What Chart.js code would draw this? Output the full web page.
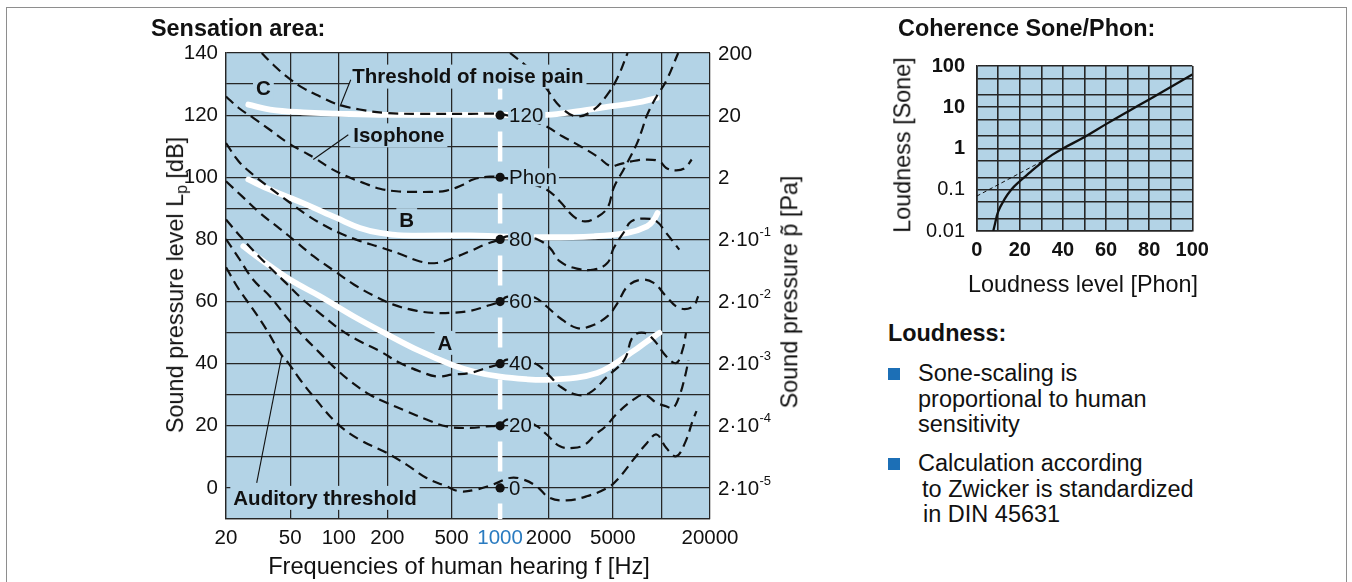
<!DOCTYPE html>
<html>
<head>
<meta charset="utf-8">
<script src="https://cdn.jsdelivr.net/npm/chart.js@4.4.1/dist/chart.umd.min.js"></script>
<style>
html,body{margin:0;padding:0;background:#fff;width:1352px;height:582px;overflow:hidden;
  font-family:"Liberation Sans",Arial,Helvetica,sans-serif;color:#111;}
#frame{position:absolute;left:6px;top:7px;width:1339px;height:640px;border:1px solid #8e8e8e;z-index:0;}
canvas{position:absolute;z-index:1;}
.t{position:absolute;white-space:nowrap;line-height:1;z-index:2;}
.b{font-weight:bold;}
.rot{transform:translate(-50%,-50%) rotate(-90deg);}
.ctr{transform:translateX(-50%);}
.sq{position:absolute;width:12px;height:12px;background:#1c6fb6;z-index:2;}
sub{font-size:0.68em;vertical-align:-0.25em;}
</style>
</head>
<body>
<div id="frame"></div>
<canvas id="main" width="860" height="582" style="left:0;top:0;"></canvas>
<canvas id="sone" width="380" height="260" style="left:860px;top:40px;"></canvas>

<div class="t b" style="left:151px;top:17px;font-size:23.4px;">Sensation area:</div>
<div class="t rot" style="left:177px;top:285px;font-size:23.4px;">Sound pressure level L<sub>p</sub> [dB]</div>
<div class="t rot" style="left:790px;top:292px;font-size:23.4px;">Sound pressure p&#771; [Pa]</div>
<div class="t ctr" style="left:459px;top:555px;font-size:23.6px;">Frequencies of human hearing f [Hz]</div>

<div class="t b" style="left:898px;top:17px;font-size:23.4px;">Coherence Sone/Phon:</div>
<div class="t rot" style="left:903px;top:145px;font-size:23.4px;">Loudness [Sone]</div>
<div class="t ctr" style="left:1083px;top:273px;font-size:23.4px;">Loudness level [Phon]</div>

<div class="t b" style="left:888px;top:322px;font-size:23.4px;">Loudness:</div>
<div class="sq" style="left:888px;top:368px;"></div>
<div class="t" style="left:918px;top:362px;font-size:23.5px;">Sone-scaling is</div>
<div class="t" style="left:918px;top:388px;font-size:23.5px;">proportional to human</div>
<div class="t" style="left:918px;top:413px;font-size:23.5px;">sensitivity</div>
<div class="sq" style="left:888px;top:458px;"></div>
<div class="t" style="left:918px;top:452px;font-size:23.5px;">Calculation according</div>
<div class="t" style="left:922px;top:478px;font-size:23.5px;">to Zwicker is standardized</div>
<div class="t" style="left:923px;top:503px;font-size:23.5px;">in DIN 45631</div>

<script>
const FONT = '"Liberation Sans", Arial, Helvetica, sans-serif';
const PLOT_BG = '#b3d3e6';
const GRID = '#262626';
const INK = '#111111';
const BLUE_TICK = '#2a7bc0';

/* ---------- Sensation area: axis ticks ---------- */
const freqTicks = [20, 50, 100, 200, 500, 1000, 2000, 5000, 10000, 20000];
const freqTickLabels = ['20', '50', '100', '200', '500', '1000', '2000', '5000', '', '20000'];
const levelTickLabels = {0:'0', 20:'20', 40:'40', 60:'60', 80:'80', 100:'100', 120:'120', 140:'140'};
/* right axis: sound pressure in Pa */
const paLevels = [140, 120, 100, 80, 60, 40, 20, 0];
const paBase = ['200', '20', '2', '2·10', '2·10', '2·10', '2·10', '2·10'];
const paExp = ['', '', '', '-1', '-2', '-3', '-4', '-5'];

/* ---------- isophones [Hz, dB] ---------- */
const phon0 = [[20,71],[24,64],[29.5,57.4],[35.6,51],[44,42.9],[48.7,40.2],[57.5,34.9],[69.5,29.5],[97,20.9],[135,15.5],[198,11.3],[263,7.5],[350,3.2],[466,0.5],[565,-1.1],[716,-0.5],[905,1.1],[1149,3.2],[1390,2.7],[1684,0.5],[2030,-3.2],[2580,-4],[3440,-2.7],[4620,0],[5340,2.7],[6700,9.1],[8140,14.5],[9330,17.2],[10700,12.9],[12350,10.2],[14000,14.5],[15700,22],[16500,24.7]];
const phon20 = [[20,80.1],[24,74],[29.5,67],[37.4,61.7],[48.7,54.2],[60.3,48.8],[76.5,43.4],[97,38.1],[122,33.8],[156,30],[198,27.4],[263,24.7],[350,22],[466,19.8],[651,19.3],[826,19.8],[1000,20.3],[1100,22],[1400,21.5],[1700,19.8],[1944,17.2],[2350,13.4],[2850,12.9],[3340,13.9],[3900,17.2],[4500,19.8],[5340,24.1],[6700,28.4],[7850,30],[9330,27.4],[10700,26.3],[11780,25.7],[12900,29.5],[14000,35.9],[14700,41]];
const phon40 = [[20,86.4],[25,80.5],[32,74.5],[40,69.5],[47,66],[60,60.6],[76,56.3],[102,51],[135,47.2],[180,44],[240,40.2],[319,37.5],[404,35.9],[510,36.5],[651,37],[820,38.6],[1000,40],[1100,41.3],[1400,41],[1700,39.7],[2040,35.9],[2350,32.7],[2990,30],[3590,30.6],[4620,35.9],[5900,41.3],[6680,48.8],[7850,49.9],[8950,47.7],[10700,42.4],[12350,40.2],[13530,44.5],[14200,49.9]];
const phon60 = [[20,98.7],[25,94],[32.5,88.5],[43,83.5],[55,79],[70,74.5],[93,70],[124,65.5],[163,62],[218,59],[305,57],[404,56.3],[510,56.4],[651,57],[820,58.5],[1000,60],[1100,61.5],[1400,61.5],[1650,61.2],[1944,58.4],[2350,54.7],[2990,51.5],[3600,52],[4620,55.2],[5340,59.5],[6170,64.9],[7420,67],[8950,66],[10700,61.7],[12900,57.9],[15700,58.4],[16900,61.7]];
const phon80 = [[20,111],[24,105.1],[29.5,100.8],[37.4,96.6],[48.7,92.2],[63,88],[80,84.7],[102,82],[135,79.5],[180,77.5],[240,75.3],[319,72.9],[404,72.4],[510,74],[651,76.2],[820,78.5],[1000,80],[1100,81],[1400,80.8],[1720,79.9],[2040,77.2],[2350,72.9],[2990,70.6],[3810,70.3],[4620,72.4],[5060,77.2],[5900,82.6],[6500,85.8],[7850,86.7],[9330,85.8],[10700,82.1],[12900,76.7]];
const phon100 = [[20,126],[24,122.3],[29.5,119.1],[37.4,115.3],[48.7,111],[60,108.3],[73.5,105.7],[88,103],[112,100.3],[142,98.2],[180,96.3],[228,95.5],[289,95.3],[368,95.3],[466,95.7],[590,97.6],[680,99.3],[870,100.2],[1000,100],[1400,98.5],[1944,96],[2350,92.2],[2850,87.4],[3340,85.8],[3900,86.9],[4620,90.1],[5060,96.6],[5900,103],[7000,110.5],[7550,115],[8140,120],[9330,126],[10700,131],[12700,140]];
const phon120 = [[33.3,140],[39.3,136.2],[48.7,132],[60.3,128.7],[76.5,126],[97,123.6],[135,121.8],[198,120.7],[319,120.4],[651,120.4],[1000,120.3],[1400,118.5],[1850,116.8],[2430,113.2],[3140,110],[4000,106.7],[4850,103.5],[5340,104],[6500,105.1],[8140,105.7],[9720,105.1],[10700,103],[12350,102.2],[14000,103],[15400,105.7]];
const painHigh = [[1152,140],[1462,135.7],[1890,129.3],[2350,122.8],[2990,119.6],[3810,121.8],[4620,126.6],[5340,132],[6170,140]];

/* ---------- white ranges A, B, C [Hz, dB] ---------- */
const rangeA = [[25.6,77.8],[33,73.5],[50,67],[76.5,61.7],[124,55.2],[198,49.5],[319,44],[510,39.5],[700,37.3],[1000,35.8],[1450,35],[1944,34.8],[2990,35.5],[4000,37],[4850,39.1],[6700,44],[8140,47.2],[9720,49.9]];
const rangeB = [[27.5,99.3],[37.5,96],[60,91.7],[97,86.9],[135,83.7],[180,82.1],[250,81.3],[651,81.3],[1000,81],[1700,80.7],[3810,81],[6170,82.1],[8140,84.2],[9000,86.4],[9450,88.5]];
const rangeC = [[27.5,123.4],[37.5,121.8],[60,120.9],[97,120.5],[198,120.1],[651,120.1],[1000,120.1],[1944,120.1],[2990,121.2],[4800,122.8],[7000,124],[9350,125.5]];

/* ---------- 1000 Hz reference ---------- */
const refFreq = 1000;
const refLevels = [0, 20, 40, 60, 80, 100, 120];
const refLabels = ['0', '20', '40', '60', '80', 'Phon', '120'];
const refLineLevels = [140, -10];

/* ---------- annotations ---------- */
const notes = [
  {text:'C', f:34.1, db:128.5, align:'center'},
  {text:'B', f:263.8, db:86.2, align:'center'},
  {text:'A', f:455.6, db:46.7, align:'center'},
  {text:'Threshold of noise pain', f:121.3, db:132.4, align:'left'},
  {text:'Isophone', f:123, db:113.5, align:'left'},
  {text:'Auditory threshold', f:22.2, db:-3.2, align:'left'}
];
const pointers = [
  [[118.6,131.4],[101.8,122.8]],
  [[114.6,113.7],[69.5,105.7]],
  [[31,1.6],[44.3,42.6]]
];

/* ---------- Sone / Phon ---------- */
const phonTicks = [0,10,20,30,40,50,60,70,80,90,100];
const phonTickLabels = ['0','','20','','40','','60','','80','','100'];
const soneTicks = [0.01,0.02,0.05,0.1,0.2,0.5,1,2,5,10,20,50,100];
const soneTickLabels = ['0.01','','','0.1','','','1','','','10','','','100'];
const loudnessPhon = [7.7,8.5,10,13,16,19.3,25,30,35,40,50,60,70,80,90,100];
const loudnessSone = [0.01,0.015,0.03,0.06,0.1,0.15,0.27,0.45,0.7,1,1.9,3.9,7.8,15.5,31,62];
const approxPhon = [0,30];
const approxSone = [0.07,0.48];

const pts = arr => arr.map(p => ({x:p[0], y:p[1]}));

const bgPlugin = {
  id:'plotbg',
  beforeDraw(chart){
    const a = chart.chartArea, ctx = chart.ctx;
    ctx.save(); ctx.fillStyle = PLOT_BG;
    ctx.fillRect(a.left, a.top, a.right - a.left, a.bottom - a.top);
    ctx.restore();
  }
};

const sensationPlugin = {
  id:'sensation',
  afterDatasetsDraw(chart){
    const ctx = chart.ctx, xs = chart.scales.x, ys = chart.scales.y;
    ctx.save();
    ctx.font = '20.5px ' + FONT;
    ctx.textBaseline = 'middle'; ctx.textAlign = 'left';
    const lx = xs.getPixelForValue(refFreq) + 9;
    refLevels.forEach((lv,i) => {
      const py = ys.getPixelForValue(lv);
      const w = ctx.measureText(refLabels[i]).width;
      ctx.fillStyle = PLOT_BG;
      ctx.fillRect(lx - 1, py - 9, w + 3, 18);
    });
    ctx.fillStyle = INK;
    refLevels.forEach((lv,i) => {
      ctx.fillText(refLabels[i], lx, ys.getPixelForValue(lv) + 1);
    });
    ctx.font = 'bold 20.5px ' + FONT;
    notes.forEach(n => {
      const px = xs.getPixelForValue(n.f), py = ys.getPixelForValue(n.db);
      const w = ctx.measureText(n.text).width;
      const left = n.align === 'center' ? px - w/2 : px;
      ctx.fillStyle = PLOT_BG;
      ctx.fillRect(left - 3, py - 12, w + 6, 24);
    });
    ctx.strokeStyle = INK; ctx.lineWidth = 1.1;
    pointers.forEach(p => {
      ctx.beginPath();
      ctx.moveTo(xs.getPixelForValue(p[0][0]), ys.getPixelForValue(p[0][1]));
      ctx.lineTo(xs.getPixelForValue(p[1][0]), ys.getPixelForValue(p[1][1]));
      ctx.stroke();
    });
    ctx.fillStyle = INK;
    notes.forEach(n => {
      ctx.textAlign = n.align;
      ctx.fillText(n.text, xs.getPixelForValue(n.f), ys.getPixelForValue(n.db) + 1);
    });
    ctx.restore();
  },
  afterDraw(chart){
    const ctx = chart.ctx, ys = chart.scales.y;
    const x0 = chart.chartArea.right + 8;
    ctx.save();
    ctx.fillStyle = INK; ctx.textAlign = 'left'; ctx.textBaseline = 'middle';
    paLevels.forEach((lv,i) => {
      const py = ys.getPixelForValue(lv) + 1;
      ctx.font = '20.5px ' + FONT;
      ctx.fillText(paBase[i], x0, py);
      if (paExp[i]) {
        const w = ctx.measureText(paBase[i]).width;
        ctx.font = '13px ' + FONT;
        ctx.fillText(paExp[i], x0 + w + 0.5, py - 8);
      }
    });
    ctx.restore();
  }
};

const dashed = c => ({data: pts(c), borderColor: INK, borderWidth: 2.2, borderDash: [10,6],
  pointRadius: 0, tension: 0.4, fill: false, order: 1});
const white = c => ({data: pts(c), borderColor: '#ffffff', borderWidth: 5.8, borderCapStyle: 'round',
  pointRadius: 0, tension: 0.4, fill: false, order: 3});

new Chart(document.getElementById('main'), {
  type: 'line',
  data: {
    datasets: [
      {data: refLevels.map(v => ({x: refFreq, y: v})), showLine: false, pointRadius: 4.6,
       pointBackgroundColor: INK, pointBorderWidth: 0, order: 0},
      ...[phon0, phon20, phon40, phon60, phon80, phon100, phon120, painHigh].map(dashed),
      {data: refLineLevels.map(v => ({x: refFreq, y: v})), borderColor: '#ffffff', borderWidth: 4.5,
       borderDash: [30,32], borderDashOffset: 45.5, pointRadius: 0, order: 2},
      ...[rangeA, rangeB, rangeC].map(white)
    ]
  },
  options: {
    responsive: false, animation: false, events: [],
    layout: {padding: {top: 53, right: 150, left: 0, bottom: 0}},
    plugins: {legend: {display: false}, tooltip: {enabled: false}},
    scales: {
      x: {
        type: 'logarithmic', min: 20, max: 20000, position: 'bottom',
        afterBuildTicks: s => { s.ticks = freqTicks.map(v => ({value: v})); },
        afterFit: s => { s.height = 63; },
        ticks: {autoSkip: false, maxRotation: 0, minRotation: 0, padding: 7,
          font: {size: 20.5, family: FONT},
          color: c => (c.tick && c.tick.value === 1000) ? BLUE_TICK : INK,
          callback: (v, i) => freqTickLabels[i]},
        grid: {color: c => (c.tick && c.tick.value === 1000) ? 'rgba(0,0,0,0)' : GRID,
          lineWidth: 1.25, drawTicks: false},
        border: {display: true, color: GRID, width: 1.25}
      },
      y: {
        type: 'linear', min: -10, max: 140, position: 'left',
        afterFit: s => { s.width = 226; },
        ticks: {stepSize: 10, padding: 8, font: {size: 20.5, family: FONT}, color: INK,
          callback: v => levelTickLabels[v] !== undefined ? levelTickLabels[v] : ''},
        grid: {color: GRID, lineWidth: 1.25, drawTicks: false},
        border: {display: true, color: GRID, width: 1.25}
      }
    }
  },
  plugins: [bgPlugin, sensationPlugin]
});

new Chart(document.getElementById('sone'), {
  type: 'line',
  data: {
    datasets: [
      {data: loudnessPhon.map((p,i) => ({x: p, y: loudnessSone[i]})), borderColor: INK, borderWidth: 2.3,
       pointRadius: 0, tension: 0.4, fill: false, order: 0},
      {data: approxPhon.map((p,i) => ({x: p, y: approxSone[i]})), borderColor: INK, borderWidth: 1,
       borderDash: [4,3], pointRadius: 0, fill: false, order: 1}
    ]
  },
  options: {
    responsive: false, animation: false, events: [],
    layout: {padding: {top: 26, right: 47.7, left: 0, bottom: 0}},
    plugins: {legend: {display: false}, tooltip: {enabled: false}},
    scales: {
      x: {
        type: 'linear', min: 0, max: 100, position: 'bottom',
        afterBuildTicks: s => { s.ticks = phonTicks.map(v => ({value: v})); },
        afterFit: s => { s.height = 69; },
        ticks: {autoSkip: false, maxRotation: 0, padding: 7, color: INK,
          font: {size: 20, family: FONT, weight: 'bold'},
          callback: (v, i) => phonTickLabels[i]},
        grid: {color: GRID, lineWidth: 1.6, drawTicks: false},
        border: {display: true, color: GRID, width: 1.6}
      },
      y: {
        type: 'logarithmic', min: 0.01, max: 100, position: 'left',
        afterBuildTicks: s => { s.ticks = soneTicks.map(v => ({value: v})); },
        afterFit: s => { s.width = 116.7; },
        ticks: {autoSkip: false, padding: 11.7, color: INK,
          font: c => ({size: 20, family: FONT, weight: (c.tick && c.tick.value >= 1) ? 'bold' : 'normal'}),
          callback: (v, i) => soneTickLabels[i]},
        grid: {color: GRID, lineWidth: 1.6, drawTicks: false},
        border: {display: true, color: GRID, width: 1.6}
      }
    }
  },
  plugins: [bgPlugin]
});
</script>
</body>
</html>
